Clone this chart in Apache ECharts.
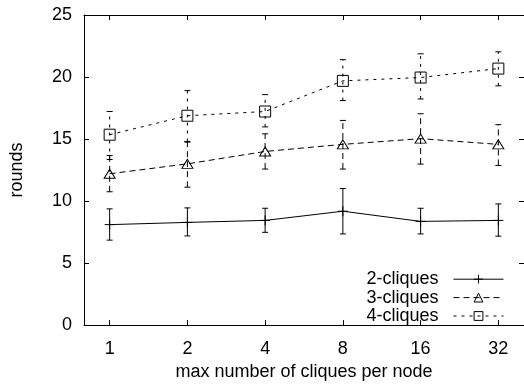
<!DOCTYPE html>
<html>
<head>
<meta charset="utf-8">
<script src="https://cdn.jsdelivr.net/npm/echarts@6/dist/echarts.min.js"></script>
<style>
  html, body { margin: 0; padding: 0; background: #fff; }
  #chart { width: 524px; height: 386px; }
</style>
</head>
<body>
<div id="chart"></div>
<script>
// x categories: max number of cliques per node
const categories = ['1', '2', '4', '8', '16', '32'];
const yTicks = [0, 5, 10, 15, 20, 25];

// mean rounds with error bar bounds, one set per clique size
const clique2Mean = [8.10, 8.28, 8.44, 9.18, 8.36, 8.44];
const clique2Low  = [6.85, 7.19, 7.48, 7.35, 7.35, 7.17];
const clique2High = [9.37, 9.45, 9.42, 11.01, 9.42, 9.77];

const clique3Mean = [12.2, 13.0, 14.0, 14.57, 15.03, 14.57];
const clique3Low  = [10.75, 11.12, 12.58, 12.58, 12.98, 12.87];
const clique3High = [13.67, 14.75, 15.42, 16.5, 17.04, 16.16];

const clique4Mean = [15.35, 16.88, 17.22, 19.69, 19.96, 20.68];
const clique4Low  = [13.35, 14.8, 15.98, 18.1, 18.23, 19.29];
const clique4High = [17.22, 18.9, 18.58, 21.4, 21.87, 22.03];

const FONT = 'Liberation Sans, Arial, sans-serif';
const INK = '#000';
const idx = categories.map((_, i) => i);

const plusPath = 'path://M0,5L10,5M5,0L5,10';

const seriesDefs = [
  { name: '2-cliques', mean: clique2Mean, low: clique2Low, high: clique2High,
    dash: 'solid', symbol: plusPath, size: 10 },
  { name: '3-cliques', mean: clique3Mean, low: clique3Low, high: clique3High,
    dash: [6, 4], symbol: 'triangle', size: [11, 9] },
  { name: '4-cliques', mean: clique4Mean, low: clique4Low, high: clique4High,
    dash: [3, 5], symbol: 'rect', size: 11 }
];

function errorBarRenderer(dash) {
  return function (params, api) {
    const x = api.value(0);
    const lo = api.coord([x, api.value(1)]);
    const hi = api.coord([x, api.value(2)]);
    const cap = 3;
    const style = { stroke: INK, lineWidth: 1, lineDash: dash === 'solid' ? null : dash, fill: null };
    return {
      type: 'group',
      children: [
        { type: 'line', shape: { x1: lo[0], y1: lo[1], x2: hi[0], y2: hi[1] }, style: style },
        { type: 'line', shape: { x1: lo[0] - cap, y1: lo[1], x2: lo[0] + cap, y2: lo[1] }, style: { stroke: INK, lineWidth: 1 } },
        { type: 'line', shape: { x1: hi[0] - cap, y1: hi[1], x2: hi[0] + cap, y2: hi[1] }, style: { stroke: INK, lineWidth: 1 } }
      ]
    };
  };
}

const series = [];
seriesDefs.forEach(d => {
  series.push({
    name: d.name,
    type: 'line',
    data: idx.map(i => [i, d.mean[i]]),
    symbol: d.symbol,
    symbolSize: d.size,
    showAllSymbol: true,
    lineStyle: { color: INK, width: 1, type: d.dash },
    itemStyle: { color: 'transparent', borderColor: INK, borderWidth: 1 },
    emphasis: { disabled: true },
    animation: false,
    z: 3
  });
  series.push({
    name: d.name + ' error',
    type: 'custom',
    data: idx.map(i => [i, d.low[i], d.high[i]]),
    renderItem: errorBarRenderer(d.dash),
    animation: false,
    silent: true,
    z: 2
  });
});

const chart = echarts.init(document.getElementById('chart'), null, { renderer: 'canvas' });
const labelText = { fontFamily: FONT, fontSize: 18, color: INK };

chart.setOption({
  animation: false,
  backgroundColor: '#fff',
  grid: { left: 80, right: -4, top: 15, bottom: 57, containLabel: false },
  legend: {
    data: seriesDefs.map(d => d.name),
    orient: 'vertical',
    right: 15,
    top: 265,
    align: 'right',
    itemWidth: 50,
    itemHeight: 11,
    itemGap: 0,
    selectedMode: false,
    formatter: n => n + '  ',
    itemStyle: { color: 'transparent', borderColor: INK, borderWidth: 1 },
    lineStyle: { width: 1, color: INK },
    textStyle: { fontFamily: FONT, fontSize: 18, color: INK, lineHeight: 18.4 }
  },
  xAxis: [
    {
      type: 'value', min: -0.33, max: 5.33, position: 'bottom',
      name: 'max number of cliques per node', nameLocation: 'middle', nameGap: 36.5,
      nameTextStyle: labelText,
      axisLine: { lineStyle: { color: INK, width: 1 } },
      axisTick: { inside: true, length: 5, customValues: idx, lineStyle: { color: INK } },
      axisLabel: { customValues: idx, margin: 15, formatter: v => categories[Math.round(v)], ...labelText },
      splitLine: { show: false }
    },
    {
      type: 'value', min: -0.33, max: 5.33, position: 'top',
      axisLine: { onZero: false, lineStyle: { color: INK, width: 1 } },
      axisTick: { inside: true, length: 5, customValues: idx, lineStyle: { color: INK } },
      axisLabel: { show: false },
      splitLine: { show: false }
    }
  ],
  yAxis: [
    {
      type: 'value', min: 0, max: 25, interval: 5, position: 'left',
      name: 'rounds', nameLocation: 'middle', nameGap: 58, nameRotate: 90,
      nameTextStyle: labelText,
      axisLine: { show: true, onZero: false, lineStyle: { color: INK, width: 1 } },
      axisTick: { show: true, inside: true, length: 5, lineStyle: { color: INK } },
      axisLabel: { margin: 12, formatter: v => (yTicks.indexOf(v) >= 0 ? String(v) : ''), ...labelText },
      splitLine: { show: false }
    },
    {
      type: 'value', min: 0, max: 25, interval: 5, position: 'right',
      axisLine: { show: true, onZero: false, lineStyle: { color: INK, width: 1 } },
      axisTick: { show: true, inside: true, length: 5, lineStyle: { color: INK } },
      axisLabel: { show: false },
      splitLine: { show: false }
    }
  ],
  series: series
});
</script>
</body>
</html>
